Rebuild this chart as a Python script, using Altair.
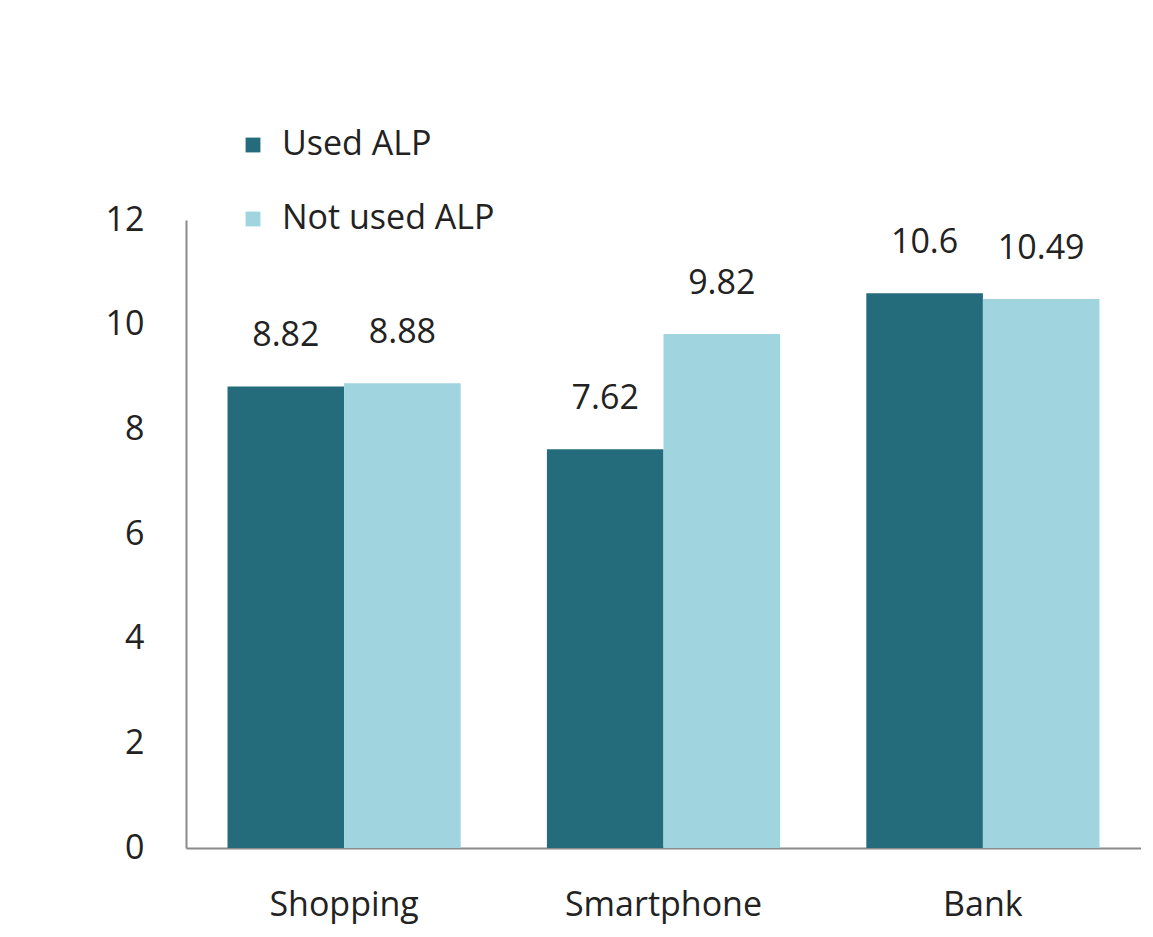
import altair as alt
import pandas as pd

categories = ["Shopping", "Smartphone", "Bank"]
groups = ["Used ALP", "Not used ALP"]
used_alp = [8.82, 7.62, 10.6]
not_used_alp = [8.88, 9.82, 10.49]
label_used = ["8.82", "7.62", "10.6"]
label_not_used = ["8.88", "9.82", "10.49"]

rows = []
for i, c in enumerate(categories):
    rows.append({"category": c, "group": groups[0], "value": used_alp[i], "label": label_used[i]})
    rows.append({"category": c, "group": groups[1], "value": not_used_alp[i], "label": label_not_used[i]})
df = pd.DataFrame(rows)

FONT = "Open Sans"
colors = ["#246c7b", "#a0d5e0"]

x = alt.X("category:N", sort=categories, title=None,
          scale=alt.Scale(paddingInner=0.27, paddingOuter=0.13),
          axis=alt.Axis(labelAngle=0, labelFont=FONT, labelFontSize=34, labelColor="#222222",
                        labelPadding=40, ticks=False, domainColor="#8a8a8a", domainWidth=2,
                        labelLimit=0))
xo = alt.XOffset("group:N", sort=groups, scale=alt.Scale(paddingInner=0, paddingOuter=0))
y = alt.Y("value:Q", title=None,
          scale=alt.Scale(domain=[0, 12], nice=False),
          axis=alt.Axis(values=[0, 2, 4, 6, 8, 10, 12], grid=False, ticks=False,
                        labelFont=FONT, labelFontSize=34, labelColor="#222222",
                        labelPadding=42, domainColor="#8a8a8a", domainWidth=2))

bars = alt.Chart(df).mark_bar().encode(
    x=x, xOffset=xo, y=y,
    color=alt.Color("group:N", sort=groups,
                    scale=alt.Scale(domain=groups, range=colors),
                    legend=alt.Legend(title=None, orient="none", legendX=50, legendY=-92,
                                      symbolType="square", symbolSize=220, symbolStrokeWidth=0,
                                      labelFont=FONT, labelFontSize=34, labelColor="#222222",
                                      labelOffset=12, rowPadding=40, padding=0, labelLimit=0)),
)

labels = alt.Chart(df).mark_text(font=FONT, fontSize=34, color="#222222",
                                 baseline="middle", dy=-50).encode(
    x=x, xOffset=xo, y=y, text="label:N")

chart = (bars + labels).properties(
    width=955, height=628,
    background="white",
    padding={"left": 178, "top": 212, "right": 0, "bottom": 85},
    autosize=alt.AutoSizeParams(type="none"),
).configure_view(strokeWidth=0)

chart.save("out.html", embed_options={"renderer": "svg", "actions": False})
